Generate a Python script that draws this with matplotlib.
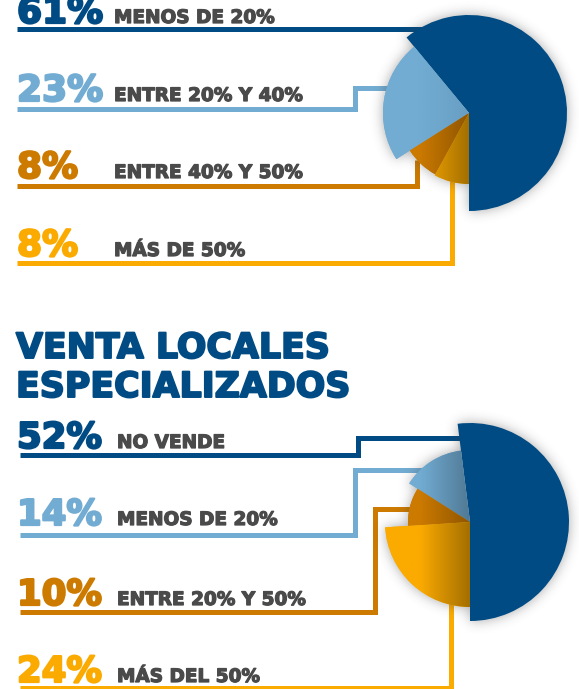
import numpy as np
import matplotlib
matplotlib.use("Agg")
import matplotlib.pyplot as plt
import matplotlib.patheffects as pe
from matplotlib.patches import Wedge
from matplotlib.colors import to_rgb

# ---------------- data ----------------
chart1_values = [61, 23, 8, 8]
chart1_labels = ["MENOS DE 20%", "ENTRE 20% Y 40%", "ENTRE 40% Y 50%", "MÁS DE 50%"]

chart2_title = "VENTA LOCALES\nESPECIALIZADOS"
chart2_values = [52, 14, 10, 24]
chart2_labels = ["NO VENDE", "MENOS DE 20%", "ENTRE 20% Y 50%", "MÁS DEL 50%"]

# ---------------- style / layout ----------------
colors = ["#004b83", "#72acd3", "#cc7a00", "#fbaa00"]
text_gray = "#4a4a4a"
title_color = "#004b83"

W, H = 579, 689
fig = plt.figure(figsize=(W / 100, H / 100), dpi=100)
ax = fig.add_axes([0, 0, 1, 1])
ax.axis("off")

PX = 0.72  # points per pixel at dpi 100

pie1 = dict(center=(469, 113), radii=[98, 86, 70, 71], start=-90,
            shade=[0, 0.08, 0.3, 0.35])
pie2 = dict(center=(470, 522), radii=[99, 72, 62, 85], start=-90,
            shade=[0, 0.3, 0.3, 0.35])

lines1 = [
    [(17, 29), (425, 29)],
    [(17, 109), (355, 109), (355, 88), (390, 88)],
    [(17, 186), (417, 186), (417, 160)],
    [(17, 263), (452, 263), (452, 180)],
]
lines2 = [
    [(20, 455), (358, 455), (358, 438), (465, 438)],
    [(20, 535), (355, 535), (355, 470), (428, 470)],
    [(20, 612), (375, 612), (375, 509), (412, 509)],
    [(20, 688), (451, 688), (451, 600)],
]
base1 = [23, 101, 178, 256]
base2 = [448, 525, 605, 682]


def heavy(col, w):
    return [pe.withStroke(linewidth=w, foreground=col)]


def draw_lines(paths):
    for p, col in zip(paths, colors):
        xs, ys = zip(*p)
        ax.plot(xs, ys, color=col, lw=5 * PX, solid_joinstyle="miter",
                solid_capstyle="butt", zorder=1)


def pie_shadow(cfg, values):
    cx, cy = cfg["center"]
    R = 135
    xs = np.arange(cx - R, cx + R)
    ys = np.arange(cy - R, cy + R)
    X, Y = np.meshgrid(xs + 0.5, ys + 0.5)
    dx, dy = X - cx, -(Y - cy)
    rr = np.hypot(dx, dy)
    th = (np.degrees(np.arctan2(dy, dx)) - cfg["start"]) % 360
    cum = np.cumsum(values) / np.sum(values) * 360
    idx = np.searchsorted(cum, th, side="right").clip(0, len(values) - 1)
    rad = np.array(cfg["radii"])[idx]
    mask = (rr < rad).astype(float)
    sig = 6.0
    k = np.arange(-20, 21)
    g = np.exp(-k ** 2 / (2 * sig ** 2))
    g /= g.sum()
    b = np.apply_along_axis(lambda m: np.convolve(m, g, mode="same"), 1, mask)
    b = np.apply_along_axis(lambda m: np.convolve(m, g, mode="same"), 0, b)
    img = np.zeros((len(ys), len(xs), 4))
    img[..., :3] = 0.25
    img[..., 3] = b * 0.45
    ax.imshow(img, extent=(xs[0], xs[-1] + 1, ys[-1] + 1, ys[0]),
              origin="upper", zorder=2, interpolation="bilinear")


def draw_pie(cfg, values):
    cx, cy = cfg["center"]
    total = float(sum(values))
    a = cfg["start"]
    for i, (v, r, col, s) in enumerate(zip(values, cfg["radii"], colors, cfg["shade"])):
        b = a + v / total * 360
        w = Wedge((cx, cy), r, -b, -a, facecolor=col, edgecolor="none", zorder=3)
        ax.add_patch(w)
        if s > 0:
            xs = np.linspace(cx - r, cx + r, 300)
            f = np.clip((xs - (cx - 50)) / 50, 0, 1)
            base = np.array(to_rgb(col))
            row = base[None, :] * (1 - s * f[:, None])
            img = np.ones((2, len(xs), 4))
            img[..., :3] = row[None, :, :]
            im = ax.imshow(img, extent=(cx - r, cx + r, cy + r, cy - r),
                           origin="upper", zorder=3.5, interpolation="bilinear")
            im.set_clip_path(w)
        a = b


def draw_texts(values, labels, baselines, pct_size, lab_x):
    for v, lab, yb, col in zip(values, labels, baselines, colors):
        ax.text(17, yb, f"{v}%", color=col, fontsize=pct_size * PX,
                fontweight="bold", va="baseline", ha="left", zorder=5,
                path_effects=heavy(col, 1.6))
        ax.text(lab_x, yb, lab, color=text_gray, fontsize=18.5 * PX,
                fontweight="bold", va="baseline", ha="left", zorder=5,
                path_effects=heavy(text_gray, 0.9))


# chart 1
draw_lines(lines1)
pie_shadow(pie1, chart1_values)
draw_pie(pie1, chart1_values)
draw_texts(chart1_values, chart1_labels, base1, 36, 114)

# chart 2
title_lines = chart2_title.split("\n")
for t, yb in zip(title_lines, [358, 397]):
    ax.text(16, yb, t, color=title_color, fontsize=34.8 * PX, fontweight="bold",
            va="baseline", ha="left", path_effects=heavy(title_color, 1.4))
draw_lines(lines2)
pie_shadow(pie2, chart2_values)
draw_pie(pie2, chart2_values)
draw_texts(chart2_values, chart2_labels, base2, 35.5, 117)

ax.set_xlim(0, W)
ax.set_ylim(H, 0)
ax.set_aspect("auto")
fig.savefig("out.png", dpi=100)
